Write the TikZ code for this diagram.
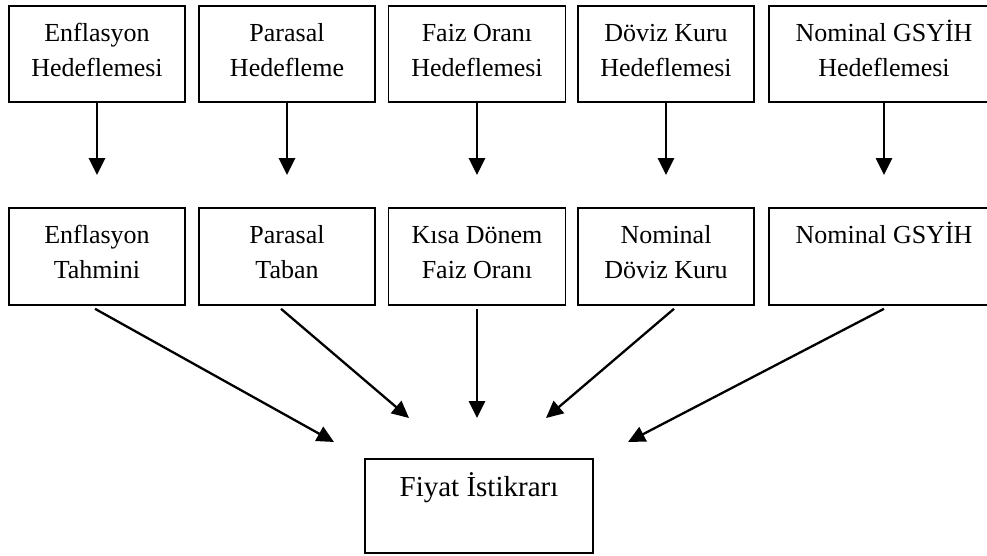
\documentclass[tikz,border=0pt]{standalone}
\usepackage{fontspec}
\setmainfont{Liberation Serif}
\usetikzlibrary{arrows.meta}
\begin{document}
\begin{tikzpicture}[x=1pt,y=-1pt,
  box/.style={draw, line width=1.6pt, inner sep=0pt, minimum width=176pt, minimum height=96pt},
  lbl/.style={anchor=north, inner sep=0pt, align=center, font=\fontsize{26}{34.5}\selectfont},
  arr/.style={line width=2.7pt, -{Triangle[length=17pt,width=16pt]}},
  darr/.style={line width=2.3pt, -{Triangle[length=17pt,width=16pt]}}]
\useasboundingbox (0,0) rectangle (987,555);
% top row
\node[box] (h1) at (97,54) {};
\node[box] (h2) at (287,54) {};
\node[box, minimum width=177pt] (h3) at (477,54) {};
\node[box] (h4) at (666,54) {};
\node[box, minimum width=230pt] (h5) at (884,54) {};
\node[lbl] (h1t) at ([yshift=-12pt]h1.north) {\strut Enflasyon\\Hedeflemesi};
\node[lbl] (h2t) at ([yshift=-12pt]h2.north) {\strut Parasal\\Hedefleme};
\node[lbl] (h3t) at ([yshift=-12pt]h3.north) {\strut Faiz Oranı\\Hedeflemesi};
\node[lbl] (h4t) at ([yshift=-12pt]h4.north) {\strut Döviz Kuru\\Hedeflemesi};
\node[lbl] (h5t) at ([yshift=-12pt]h5.north) {\strut Nominal GSYİH\\Hedeflemesi};
% second row
\node[box, minimum height=97pt] (r1) at (97,256.5) {};
\node[box, minimum height=97pt] (r2) at (287,256.5) {};
\node[box, minimum height=97pt, minimum width=177pt] (r3) at (477,256.5) {};
\node[box, minimum height=97pt] (r4) at (666,256.5) {};
\node[box, minimum height=97pt, minimum width=230pt] (r5) at (884,256.5) {};
\node[lbl] (r1t) at ([yshift=-12pt]r1.north) {\strut Enflasyon\\Tahmini};
\node[lbl] (r2t) at ([yshift=-12pt]r2.north) {\strut Parasal\\Taban};
\node[lbl] (r3t) at ([yshift=-12pt]r3.north) {\strut Kısa Dönem\\Faiz Oranı};
\node[lbl] (r4t) at ([yshift=-12pt]r4.north) {\strut Nominal\\Döviz Kuru};
\node[lbl] (r5t) at ([yshift=-12pt]r5.north) {\strut Nominal GSYİH};
% bottom box
\node[box, minimum width=228pt, minimum height=94pt] (f) at (479,506) {};
\node[lbl, font=\fontsize{29}{36}\selectfont] (ft) at ([yshift=-12.8pt]f.north) {\strut Fiyat İstikrarı};
% top arrows
\coordinate (a1) at (97,175);
\coordinate (a2) at (287,175);
\coordinate (a3) at (477,175);
\coordinate (a4) at (666,175);
\coordinate (a5) at (884,175);
\draw[arr] (h1.south) -- (a1);
\draw[arr] (h2.south) -- (a2);
\draw[arr] (h3.south) -- (a3);
\draw[arr] (h4.south) -- (a4);
\draw[arr] (h5.south) -- (a5);
% bottom arrows
\coordinate (b1) at (334,442);
\coordinate (b2) at (409,418);
\coordinate (b3) at (477,418);
\coordinate (b4) at (546,418);
\coordinate (b5) at (628,442);
\draw[darr] ([xshift=-2pt,yshift=-3pt]r1.south) -- (b1);
\draw[darr] ([xshift=-6pt,yshift=-3pt]r2.south) -- (b2);
\draw[arr] ([yshift=-3pt]r3.south) -- (b3);
\draw[darr] ([xshift=8pt,yshift=-3pt]r4.south) -- (b4);
\draw[darr] ([yshift=-3pt]r5.south) -- (b5);
\end{tikzpicture}
\end{document}
